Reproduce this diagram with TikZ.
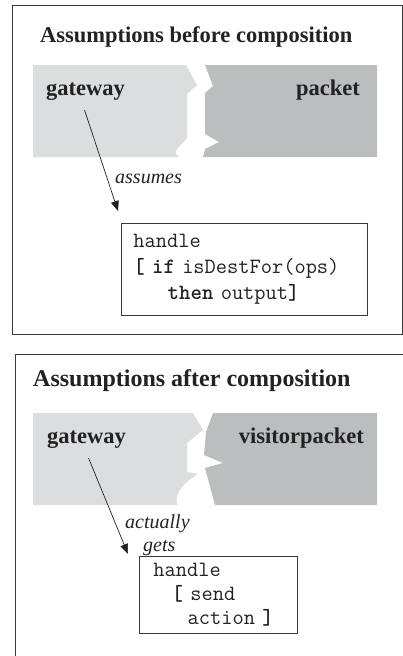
\documentclass[tikz,border=0pt]{standalone}
\usepackage{fontspec}
\setmainfont{Liberation Serif}
\usetikzlibrary{arrows.meta}
\definecolor{bandlight}{HTML}{DCDDDF}
\definecolor{banddark}{HTML}{BCBDBF}
\definecolor{frameink}{HTML}{3A3A3A}
\definecolor{textink}{HTML}{222222}
\begin{document}
\begin{tikzpicture}[x=1pt,y=-1pt,
  panel/.style={draw=frameink,line width=0.9pt},
  heading/.style={anchor=base west,inner sep=0pt,text=textink,font=\bfseries\fontsize{22.5}{27}\selectfont},
  party/.style={inner sep=0pt,text=textink,font=\bfseries\fontsize{22.5}{27}\selectfont},
  relation/.style={anchor=base west,inner sep=0pt,text=textink,font=\itshape\fontsize{20}{24}\selectfont},
  codebox/.style={draw=frameink,line width=0.8pt,anchor=north west,align=left,text=textink},
  link/.style={draw=textink,line width=0.7pt,-{Triangle[length=10pt,width=8pt]}}
]
\useasboundingbox (0,0) rectangle (403,656);

% ---------- upper panel: before composition ----------
\draw[panel] (12,5) rectangle (402,334);
\node[heading] (t1) at (40,42) {Assumptions before composition};

\fill[bandlight] (33,65) -- (186,65) -- (197,85) -- (187,94) -- (187,138)
  -- (177,149) .. controls (175,153) .. (179,157) -- (33,157) -- cycle;
\fill[banddark] (205,65) -- (213,86) -- (205,93) -- (205,134) -- (219,142)
  -- (205,149) -- (203,157) -- (377,157) -- (377,65) -- cycle;

\node[party,anchor=base west] (gw1) at (46,95) {gateway};
\node[party,anchor=base east] (pk1) at (360,95) {packet};

\node[codebox,inner xsep=12pt,text width=222pt,minimum height=92pt,
  font=\ttfamily\fontsize{21.8}{26}\selectfont] (h1) at (121,223)
  {handle\\
   \textbf{[ if} isDestFor(ops)\\
   \hspace*{1.575em}\textbf{then} output\textbf{]}};

\node[relation] (as1) at (115,183) {assumes};
\draw[link] ([xshift=-1pt,yshift=-10pt]gw1.south)
  -- ([xshift=-3pt,yshift=12pt]h1.north west);

% ---------- lower panel: after composition ----------
\draw[panel] (15,354) rectangle (410,665);
\node[heading,font=\bfseries\fontsize{24}{28}\selectfont] (t2) at (33,386)
  {Assumptions after composition};

\fill[bandlight] (33,413) -- (193,413) -- (203,430) -- (187,443) -- (187,472)
  -- (198,474) .. controls (185,482) and (174,492) .. (177,505) -- (33,505) -- cycle;
\fill[banddark] (213,413) -- (206,432) -- (204,455) -- (223,463) -- (205,468)
  -- (215,505) -- (377,505) -- (377,413) -- cycle;

\node[party,anchor=base west] (gw2) at (47,443) {gateway};
\node[party,anchor=base east] (vp2) at (364,443) {visitorpacket};

\node[codebox,inner xsep=14pt,text width=130pt,minimum height=77pt,
  font=\ttfamily\fontsize{21.8}{24}\selectfont] (h2) at (139,556)
  {handle\\
   \hspace*{0.84em}\textbf{[} send\\
   \hspace*{1.575em}action \textbf{]}};

\node[relation] (ac2) at (125,528) {actually};
\node[relation] (ge2) at (143,551) {gets};
\draw[link] ([xshift=2pt,yshift=-10pt]gw2.south)
  -- ([xshift=-11pt,yshift=2pt]h2.north west);
\end{tikzpicture}
\end{document}
